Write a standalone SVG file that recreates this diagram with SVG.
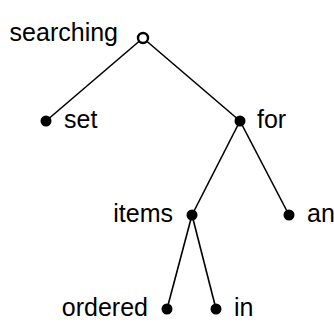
<svg xmlns="http://www.w3.org/2000/svg" width="334" height="324" viewBox="0 0 334 324">
<style>
text{font-family:"Liberation Sans",Arial,sans-serif;font-size:25px;fill:#000}
.e{stroke:#000;stroke-width:1.6;fill:none}
.d{fill:#000}
.r{text-anchor:end}
</style>
<rect width="334" height="324" fill="#fff"/>
<g id="edges">
<line class="e" x1="143" y1="38" x2="46" y2="121"/>
<line class="e" x1="143" y1="38" x2="240" y2="121"/>
<line class="e" x1="240" y1="121" x2="192" y2="215"/>
<line class="e" x1="240" y1="121" x2="289" y2="215"/>
<line class="e" x1="192" y1="215" x2="167" y2="309"/>
<line class="e" x1="192" y1="215" x2="216" y2="309"/>
</g>
<g id="n-searching"><circle cx="143" cy="38" r="5" fill="#fff" stroke="#000" stroke-width="2.4"/><text class="r" x="118" y="41">searching</text></g>
<g id="n-set"><circle class="d" cx="46" cy="121" r="5.5"/><text x="64" y="128">set</text></g>
<g id="n-for"><circle class="d" cx="240" cy="121" r="5.5"/><text x="257" y="128">for</text></g>
<g id="n-items"><circle class="d" cx="192" cy="215" r="5.5"/><text class="r" x="173" y="222">items</text></g>
<g id="n-an"><circle class="d" cx="289" cy="215" r="5.5"/><text x="307" y="222">an</text></g>
<g id="n-ordered"><circle class="d" cx="167" cy="309" r="5.5"/><text class="r" x="148" y="316">ordered</text></g>
<g id="n-in"><circle class="d" cx="216" cy="309" r="5.5"/><text x="234" y="316">in</text></g>
</svg>
